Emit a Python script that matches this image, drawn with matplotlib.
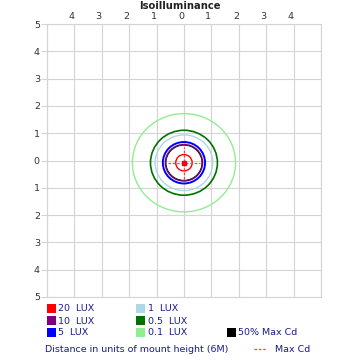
import matplotlib
matplotlib.use("Agg")
import matplotlib.pyplot as plt
from matplotlib.patches import Ellipse, Rectangle

# contour data (units of mount height), center of the pattern
center = (0.0, -0.08)
levels = ["20 LUX", "10 LUX", "5 LUX", "1 LUX", "0.5 LUX", "0.1 LUX", "50% Max Cd"]
level_colors = ["#ff0000", "#800080", "#0000ff", "#add8e6", "#007000", "#90ee90", "#000000"]
radii_x = [0.30, 0.68, 0.77, 1.05, 1.22, 1.88, 0.65]
radii_y = [0.30, 0.67, 0.76, 1.02, 1.19, 1.80, 0.64]
line_widths = [1.0, 1.0, 1.4, 1.0, 1.2, 1.0, 0.5]
maxcd_half = 0.58

ticks = [-5, -4, -3, -2, -1, 0, 1, 2, 3, 4, 5]
top_labels = ["", "4", "3", "2", "1", "0", "1", "2", "3", "4", ""]
left_labels = ["5", "4", "3", "2", "1", "0", "1", "2", "3", "4", "5"]

navy = "#1a1a8c"
fs = 6.8

fig = plt.figure(figsize=(3.6, 3.6), dpi=100)
ax = fig.add_axes([0.13, 0.175, 0.762, 0.758])
ax.set_xlim(-5, 5)
ax.set_ylim(-5, 5)

for spine in ax.spines.values():
    spine.set_color("#d4d4d4")
ax.grid(True, color="#d4d4d4", linewidth=0.8)
ax.set_axisbelow(True)
ax.xaxis.tick_top()
ax.set_xticks(ticks)
ax.set_xticklabels(top_labels)
ax.set_yticks(ticks)
ax.set_yticklabels(left_labels[::-1])
ax.tick_params(axis="x", length=0, pad=2, labelsize=fs, colors="#333333")
ax.tick_params(axis="y", length=4, pad=1, labelsize=fs, colors="#333333")
ax.tick_params(axis="y", color="#d4d4d4")
for lab in ax.get_xticklabels():
    lab.set_horizontalalignment("right")

# contours
for name, c, rx, ry, lw in zip(levels, level_colors, radii_x, radii_y, line_widths):
    ax.add_patch(Ellipse(center, 2 * rx, 2 * ry, fill=False, edgecolor=c, linewidth=lw))

# max cd crosshair
cx, cy = center
ax.plot([cx - maxcd_half, cx + maxcd_half], [cy, cy], color="#ff4040", linestyle=(0, (2, 1.5)), linewidth=0.9)
ax.plot([cx, cx], [cy - maxcd_half, cy + maxcd_half], color="#ff4040", linestyle=(0, (2, 1.5)), linewidth=0.9)
ax.plot([cx], [cy], marker="s", color="#ff0000", markersize=3.5)

fig.text(0.5, 0.984, "Isoilluminance", fontsize=7.2, fontweight="bold", color="#222222",
         ha="center", va="center")

# legend below
col_x = [0.13, 0.378, 0.63]
row_y = [0.142, 0.108, 0.077]
order = [(0, 0), (0, 1), (0, 2), (1, 0), (1, 1), (1, 2), (2, 2)]
for (col, row), name, c in zip(order, levels, level_colors):
    fig.patches.append(Rectangle((col_x[col], row_y[row] - 0.012), 0.025, 0.025,
                                 transform=fig.transFigure, facecolor=c, edgecolor="none"))
    fig.text(col_x[col] + 0.032, row_y[row], name.replace(" LUX", "  LUX"), fontsize=fs,
             color=navy, va="center")

fig.text(0.125, 0.028, "Distance in units of mount height (6M)", fontsize=fs, color=navy, va="center")
fig.lines.append(plt.Line2D([0.705, 0.74], [0.03, 0.03], transform=fig.transFigure,
                            color="#ff4040", linestyle=(0, (2, 1.5)), linewidth=0.9))
fig.text(0.765, 0.028, "Max Cd", fontsize=fs, color=navy, va="center")

fig.savefig("out.png", dpi=100)
